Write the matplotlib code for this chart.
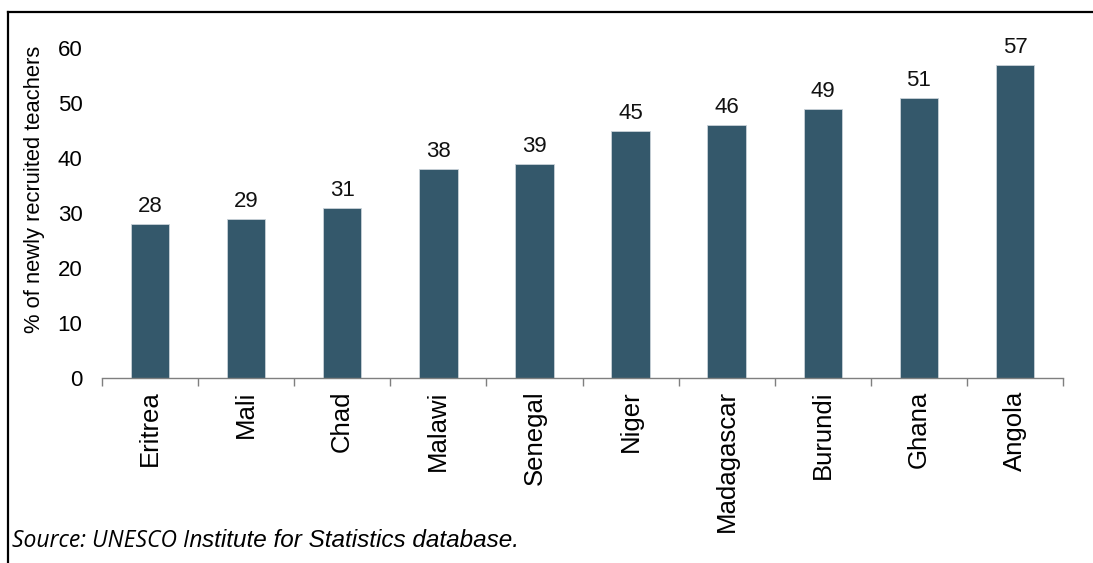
import matplotlib
matplotlib.use("Agg")
import matplotlib.pyplot as plt
from matplotlib.lines import Line2D
import numpy as np

countries = ["Eritrea", "Mali", "Chad", "Malawi", "Senegal", "Niger",
             "Madagascar", "Burundi", "Ghana", "Angola"]
shares = [28, 29, 31, 38, 39, 45, 46, 49, 51, 57]
y_ticks = [0, 10, 20, 30, 40, 50, 60]

BAR_COLOR = "#34586B"
AXIS_GREY = "#7f7f7f"
FONT = "Liberation Sans"

fig = plt.figure(figsize=(10.93, 5.63), dpi=100)
W, H = 1093, 563
# axes placed in pixel terms: left 102, right 1063, top 48, bottom 378
ax = fig.add_axes([102 / W, 1 - 378 / H, (1063 - 102) / W, (378 - 48) / H])

x = np.arange(len(countries))
ax.bar(x, shares, width=0.40, color=BAR_COLOR, edgecolor="#c9d2d8",
       linewidth=0.6, zorder=2)

for xi, v in zip(x, shares):
    ax.annotate(f"{v}", (xi, v), xytext=(0, 5), textcoords="offset points",
                ha="center", va="bottom", fontsize=16, family=FONT,
                color="#111111")

ax.set_xlim(-0.5, len(countries) - 0.5)
ax.set_ylim(0, 60)
ax.set_yticks(y_ticks)
ax.set_yticklabels([str(t) for t in y_ticks], fontsize=16, family=FONT)
ax.tick_params(axis="y", length=0, pad=14)

ax.set_xticks(x)
ax.set_xticklabels(countries, rotation=90, fontsize=18.5, family=FONT)
ax.tick_params(axis="x", which="major", length=0, pad=9)
ax.set_xticks(np.arange(-0.5, len(countries)), minor=True)
ax.tick_params(axis="x", which="minor", length=6, width=1, color=AXIS_GREY,
               direction="out")

for side in ("top", "right", "left"):
    ax.spines[side].set_visible(False)
ax.spines["bottom"].set_color(AXIS_GREY)
ax.spines["bottom"].set_linewidth(1)

ax.set_ylabel("% of newly recruited teachers", fontsize=15.8, family=FONT)
ax.yaxis.set_label_coords(-57 / (1063 - 102), (378 - 189) / (378 - 48))

# outer frame: top and left edges
fig.add_artist(Line2D([8 / W, 1.0], [1 - 12 / H, 1 - 12 / H],
                      transform=fig.transFigure, color="black", linewidth=1.6))
fig.add_artist(Line2D([8 / W, 8 / W], [0.0, 1 - 12 / H],
                      transform=fig.transFigure, color="black", linewidth=1.6))

t1 = fig.text(12 / W, 1 - 547 / H, "Source: UNESCO In", fontsize=16.5,
              family="Open Sans", style="italic", va="baseline", ha="left")
fig.canvas.draw()
bb = t1.get_window_extent()
fig.text(bb.x1 / W, 1 - 547 / H, "stitute for Statistics database.",
         fontsize=17.5, family=FONT, style="italic", va="baseline", ha="left")

fig.savefig("out.png", dpi=100)
